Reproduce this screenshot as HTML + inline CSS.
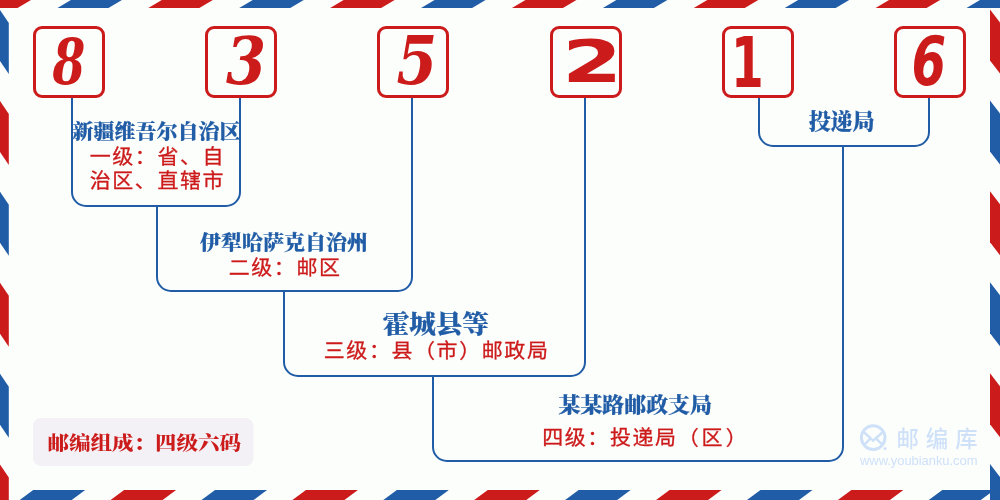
<!DOCTYPE html>
<html lang="zh-CN">
<head>
<meta charset="utf-8">
<title>835216 邮编组成</title>
<style>
html,body{margin:0;padding:0;}
body{width:1000px;height:500px;overflow:hidden;background:#fcfefc;}
svg{display:block;will-change:transform;}
.ln path{fill:none;stroke:#215da6;stroke-width:2;}
.dg{font-family:"DejaVu Serif","Liberation Serif",serif;font-weight:700;font-style:italic;font-size:50px;fill:#cc1b1b;}
.bt{font-family:"Liberation Serif","Noto Serif CJK SC",serif;font-weight:900;fill:#215da6;stroke:#215da6;stroke-width:0.2px;text-anchor:middle;}
.rt{font-family:"Liberation Sans","Noto Sans CJK SC",sans-serif;font-weight:400;font-size:20px;letter-spacing:1.5px;fill:#cc1b1b;stroke:#cc1b1b;stroke-width:0.3px;text-anchor:middle;}
.lb{font-family:"Liberation Serif","Noto Serif CJK SC",serif;font-weight:900;font-size:21.5px;fill:#cc1b1b;}
.lg{font-family:"Liberation Sans","Noto Sans CJK SC",sans-serif;fill:#cfe1f8;}
</style>
</head>
<body>
<svg width="1000" height="500" viewBox="0 0 1000 500">
<rect x="0" y="0" width="1000" height="500" fill="#fcfefc"/>
<g class="bd">
<polygon points="-20.00,0.00 31.00,0.00 17.50,8.00 -33.50,8.00" fill="#cc1b1b"/>
<polygon points="70.91,0.00 121.91,0.00 108.41,8.00 57.41,8.00" fill="#215da6"/>
<polygon points="161.82,0.00 212.82,0.00 199.32,8.00 148.32,8.00" fill="#cc1b1b"/>
<polygon points="252.73,0.00 303.73,0.00 290.23,8.00 239.23,8.00" fill="#215da6"/>
<polygon points="343.64,0.00 394.64,0.00 381.14,8.00 330.14,8.00" fill="#cc1b1b"/>
<polygon points="434.55,0.00 485.55,0.00 472.05,8.00 421.05,8.00" fill="#215da6"/>
<polygon points="525.45,0.00 576.45,0.00 562.95,8.00 511.95,8.00" fill="#cc1b1b"/>
<polygon points="616.36,0.00 667.36,0.00 653.86,8.00 602.86,8.00" fill="#215da6"/>
<polygon points="707.27,0.00 758.27,0.00 744.77,8.00 693.77,8.00" fill="#cc1b1b"/>
<polygon points="798.18,0.00 849.18,0.00 835.68,8.00 784.68,8.00" fill="#215da6"/>
<polygon points="889.09,0.00 940.09,0.00 926.59,8.00 875.59,8.00" fill="#cc1b1b"/>
<polygon points="980.00,0.00 1031.00,0.00 1017.50,8.00 966.50,8.00" fill="#215da6"/>
<polygon points="1070.91,0.00 1121.91,0.00 1108.41,8.00 1057.41,8.00" fill="#cc1b1b"/>
<polygon points="-57.71,490.00 -5.71,490.00 -19.21,500.00 -71.21,500.00" fill="#cc1b1b"/>
<polygon points="33.20,490.00 85.20,490.00 71.70,500.00 19.70,500.00" fill="#215da6"/>
<polygon points="124.11,490.00 176.11,490.00 162.61,500.00 110.61,500.00" fill="#cc1b1b"/>
<polygon points="215.02,490.00 267.02,490.00 253.52,500.00 201.52,500.00" fill="#215da6"/>
<polygon points="305.93,490.00 357.93,490.00 344.43,500.00 292.43,500.00" fill="#cc1b1b"/>
<polygon points="396.84,490.00 448.84,490.00 435.34,500.00 383.34,500.00" fill="#215da6"/>
<polygon points="487.75,490.00 539.75,490.00 526.25,500.00 474.25,500.00" fill="#cc1b1b"/>
<polygon points="578.65,490.00 630.65,490.00 617.15,500.00 565.15,500.00" fill="#215da6"/>
<polygon points="669.56,490.00 721.56,490.00 708.06,500.00 656.06,500.00" fill="#cc1b1b"/>
<polygon points="760.47,490.00 812.47,490.00 798.97,500.00 746.97,500.00" fill="#215da6"/>
<polygon points="851.38,490.00 903.38,490.00 889.88,500.00 837.88,500.00" fill="#cc1b1b"/>
<polygon points="942.29,490.00 994.29,490.00 980.79,500.00 928.79,500.00" fill="#215da6"/>
<polygon points="1033.20,490.00 1085.20,490.00 1071.70,500.00 1019.70,500.00" fill="#cc1b1b"/>
<polygon points="0.00,-80.91 8.80,-67.91 8.80,-16.91 0.00,-29.91" fill="#cc1b1b"/>
<polygon points="0.00,10.00 8.80,23.00 8.80,74.00 0.00,61.00" fill="#215da6"/>
<polygon points="0.00,100.91 8.80,113.91 8.80,164.91 0.00,151.91" fill="#cc1b1b"/>
<polygon points="0.00,191.82 8.80,204.82 8.80,255.82 0.00,242.82" fill="#215da6"/>
<polygon points="0.00,282.73 8.80,295.73 8.80,346.73 0.00,333.73" fill="#cc1b1b"/>
<polygon points="0.00,373.64 8.80,386.64 8.80,437.64 0.00,424.64" fill="#215da6"/>
<polygon points="0.00,464.55 8.80,477.55 8.80,528.55 0.00,515.55" fill="#cc1b1b"/>
<polygon points="0.00,555.45 8.80,568.45 8.80,619.45 0.00,606.45" fill="#215da6"/>
<polygon points="990.00,-81.41 1000.00,-68.41 1000.00,-17.41 990.00,-30.41" fill="#215da6"/>
<polygon points="990.00,9.50 1000.00,22.50 1000.00,73.50 990.00,60.50" fill="#cc1b1b"/>
<polygon points="990.00,100.41 1000.00,113.41 1000.00,164.41 990.00,151.41" fill="#215da6"/>
<polygon points="990.00,191.32 1000.00,204.32 1000.00,255.32 990.00,242.32" fill="#cc1b1b"/>
<polygon points="990.00,282.23 1000.00,295.23 1000.00,346.23 990.00,333.23" fill="#215da6"/>
<polygon points="990.00,373.14 1000.00,386.14 1000.00,437.14 990.00,424.14" fill="#cc1b1b"/>
<polygon points="990.00,464.05 1000.00,477.05 1000.00,528.05 990.00,515.05" fill="#215da6"/>
<polygon points="990.00,554.95 1000.00,567.95 1000.00,618.95 990.00,605.95" fill="#cc1b1b"/>
</g>
<g class="ln">
<path d="M72.00 98.00 V192.00 A14 14 0 0 0 86.00 206.00 H226.00 A14 14 0 0 0 240.00 192.00 V98.00"/>
<path d="M157.00 206.00 V277.00 A14 14 0 0 0 171.00 291.00 H398.00 A14 14 0 0 0 412.00 277.00 V206.00"/>
<path d="M284.00 291.00 V362.00 A14 14 0 0 0 298.00 376.00 H571.00 A14 14 0 0 0 585.00 362.00 V291.00"/>
<path d="M433.00 376.00 V447.00 A14 14 0 0 0 447.00 461.00 H829.00 A14 14 0 0 0 843.00 447.00 V376.00"/>
<path d="M759.00 98.00 V132.00 A14 14 0 0 0 773.00 146.00 H915.00 A14 14 0 0 0 929.00 132.00 V98.00"/>
<path d="M412 98 V210"/>
<path d="M585 98 V295"/>
<path d="M843 146 V380"/>
</g>
<g class="bx">
<rect x="34.50" y="27.50" width="69.00" height="69.00" rx="7.5" ry="7.5" fill="none" stroke="#cc1b1b" stroke-width="3.00"/>
<text class="dg" style="font-family:'DejaVu Serif','Liberation Sans',sans-serif;font-style:italic" transform="translate(52.49 83.85) scale(0.9426 1.2632)" x="0" y="0">8</text>
<rect x="206.50" y="27.50" width="69.00" height="69.00" rx="7.5" ry="7.5" fill="none" stroke="#cc1b1b" stroke-width="3.00"/>
<text class="dg" style="font-family:'DejaVu Serif','Liberation Sans',sans-serif;font-style:italic" transform="translate(226.11 84.33) scale(1.1500 1.2974)" x="0" y="0">3</text>
<rect x="378.50" y="27.50" width="69.00" height="69.00" rx="7.5" ry="7.5" fill="none" stroke="#cc1b1b" stroke-width="3.00"/>
<text class="dg" style="font-family:'DejaVu Serif','Liberation Sans',sans-serif;font-style:italic" transform="translate(396.43 84.28) scale(1.1707 1.3584)" x="0" y="0">5</text>
<rect x="551.50" y="27.50" width="69.00" height="69.00" rx="7.5" ry="7.5" fill="none" stroke="#cc1b1b" stroke-width="3.00"/>
<text class="dg" style="font-family:'DejaVu Sans','Liberation Sans',sans-serif;font-style:normal" transform="translate(562.06 81.60) scale(1.7358 1.1597)" x="0" y="0">2</text>
<rect x="723.50" y="27.50" width="69.00" height="69.00" rx="7.5" ry="7.5" fill="none" stroke="#cc1b1b" stroke-width="3.00"/>
<text class="dg" style="font-family:'DejaVu Sans','Liberation Sans',sans-serif;font-style:normal" transform="translate(731.09 86.90) scale(0.9412 1.3808)" x="0" y="0">1</text>
<rect x="895.50" y="27.50" width="69.00" height="69.00" rx="7.5" ry="7.5" fill="none" stroke="#cc1b1b" stroke-width="3.00"/>
<text class="dg" style="font-family:'DejaVu Sans','Liberation Sans',sans-serif;font-style:italic" transform="translate(911.51 84.98) scale(0.9967 1.3536)" x="0" y="0">6</text>
</g>
<g class="tx">
<text class="bt" transform="translate(156.5 138.98) scale(1 0.96)" x="0" y="0" font-size="21">新疆维吾尔自治区</text>
<text class="rt" transform="translate(157.4 163.6) scale(1.05 1)" x="0" y="0">一级：省、自</text>
<text class="rt" transform="translate(157.4 187.8) scale(1.05 1)" x="0" y="0">治区、直辖市</text>
<text class="bt" transform="translate(284 249.98) scale(1 0.96)" x="0" y="0" font-size="21">伊犁哈萨克自治州</text>
<text class="rt" transform="translate(285.1 275.1) scale(1.05 1)" x="0" y="0">二级：邮区</text>
<text class="bt" transform="translate(435.7 333.2) scale(1 0.95)" x="0" y="0" font-size="26.5">霍城县等</text>
<text class="rt" transform="translate(436.6 358.4) scale(1.05 1)" x="0" y="0">三级：县（市）邮政局</text>
<text class="bt" transform="translate(635.2 411.96) scale(1 0.96)" x="0" y="0" font-size="21.9">某某路邮政支局</text>
<text class="rt" transform="translate(542.2 445) scale(1.05 1)" x="0" y="0" style="text-anchor:start">四级：投递局<tspan dx="0.2">（</tspan><tspan dx="1">区</tspan><tspan dx="1.7">）</tspan></text>
<text class="bt" transform="translate(841.6 128.9) scale(1 0.96)" x="0" y="0" font-size="22">投递局</text>
</g>
<g class="label">
<rect x="33" y="418" width="220.5" height="48" rx="8" ry="8" fill="#f3f1f5"/>
<text class="lb" transform="translate(47.6 449.6) scale(1 0.89)" x="0" y="0">邮编组成：四级六码</text>
</g>
<g class="logo">
<circle cx="873.2" cy="437.6" r="11.8" fill="none" stroke="#cfe1f8" stroke-width="3"/>
<path d="M864 432.3 L873.2 440.6 L882.6 432.3 M864.2 445 L869.8 439.2 M882.4 445 L876.8 439.2" fill="none" stroke="#cfe1f8" stroke-width="2.5"/>
<circle cx="885" cy="448.4" r="1.5" fill="#cfe1f8"/>
<text class="lg" x="896.4" y="447" font-size="22.4" font-weight="500" letter-spacing="7">邮编库</text>
<text class="lg" x="860" y="465" font-size="13" textLength="117.5" lengthAdjust="spacing">www.youbianku.com</text>
</g>
</svg>
</body>
</html>
